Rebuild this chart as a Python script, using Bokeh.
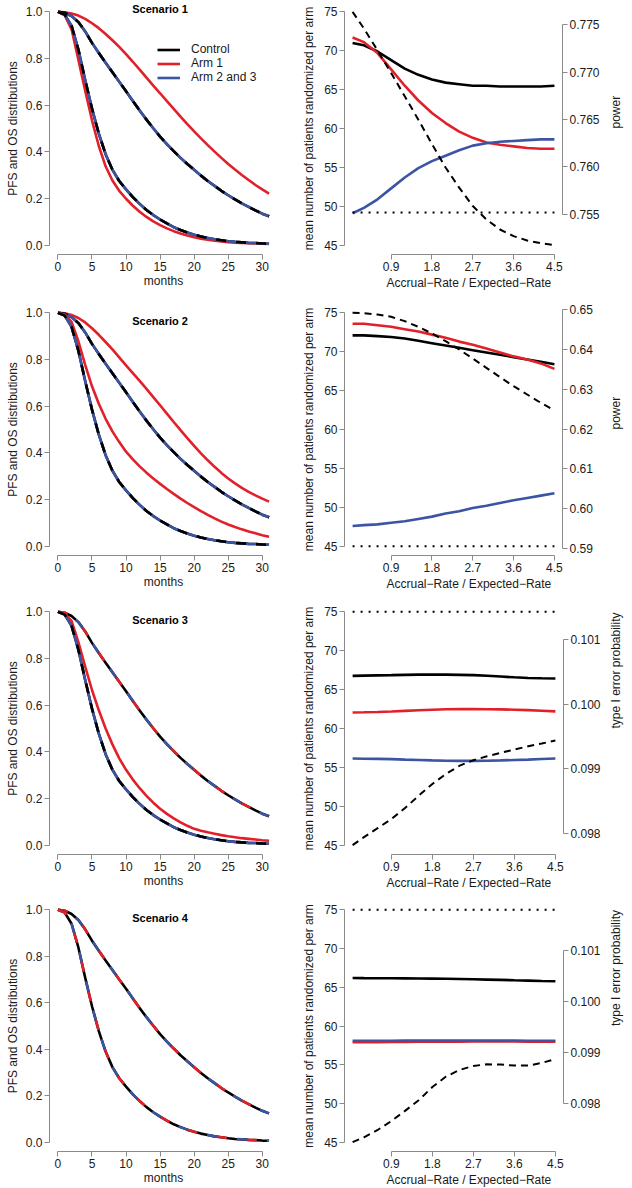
import math
from bokeh.plotting import figure
from bokeh.models import (Range1d, LinearAxis, FixedTicker, PrintfTickFormatter,
                          Legend, LegendItem, Label, Title)
from bokeh.layouts import column, row
from bokeh.embed import file_html
from bokeh.resources import INLINE

FONT = "Liberation Sans"
BLACK = "#000000"
RED = "#E2202A"
BLUE = "#3B54A3"
AXIS = "#8a8a8a"
TXT = "#1a1a1a"

# ---------------- survival curves (months 0..31) ----------------
months = list(range(32))
control_pfs = [1.000, 0.988, 0.940, 0.838, 0.708, 0.585, 0.478, 0.390, 0.323, 0.275, 0.239,
               0.206, 0.177, 0.151, 0.129, 0.110, 0.093, 0.077, 0.065, 0.054, 0.045,
               0.037, 0.031, 0.025, 0.021, 0.017, 0.014, 0.012, 0.010, 0.009, 0.007, 0.006]
control_os = [1.000, 0.996, 0.982, 0.956, 0.916, 0.867, 0.824, 0.782, 0.741, 0.700, 0.660,
              0.618, 0.577, 0.538, 0.501, 0.465, 0.433, 0.403, 0.374, 0.348, 0.323,
              0.298, 0.275, 0.254, 0.233, 0.214, 0.196, 0.179, 0.164, 0.149, 0.135, 0.124]
s1_arm1_pfs = [1.000, 0.985, 0.925, 0.795, 0.662, 0.535, 0.425, 0.338, 0.277, 0.233, 0.199,
               0.169, 0.143, 0.121, 0.102, 0.086, 0.072, 0.060, 0.050, 0.041, 0.034,
               0.028, 0.023, 0.019, 0.016, 0.013, 0.011, 0.009, 0.008, 0.007, 0.006, 0.005]
s1_arm1_os = [1.000, 0.998, 0.993, 0.984, 0.970, 0.951, 0.930, 0.905, 0.878, 0.850, 0.819,
              0.786, 0.752, 0.718, 0.684, 0.651, 0.617, 0.584, 0.551, 0.519, 0.488,
              0.458, 0.429, 0.401, 0.374, 0.348, 0.324, 0.301, 0.279, 0.258, 0.239, 0.221]
s2_arm1_pfs = [1.000, 0.993, 0.961, 0.878, 0.777, 0.685, 0.610, 0.546, 0.492, 0.446, 0.405,
               0.372, 0.342, 0.315, 0.290, 0.267, 0.245, 0.224, 0.204, 0.185, 0.167,
               0.150, 0.134, 0.119, 0.105, 0.093, 0.082, 0.072, 0.063, 0.055, 0.047, 0.040]
s2_arm1_os = [1.000, 0.998, 0.991, 0.978, 0.959, 0.934, 0.906, 0.875, 0.843, 0.809, 0.775,
              0.742, 0.708, 0.674, 0.639, 0.604, 0.568, 0.532, 0.497, 0.463, 0.430,
              0.398, 0.368, 0.340, 0.314, 0.290, 0.269, 0.250, 0.233, 0.218, 0.204, 0.191]
s3_arm1_pfs = [1.000, 0.992, 0.961, 0.870, 0.765, 0.665, 0.578, 0.500, 0.432, 0.372, 0.323,
               0.281, 0.244, 0.211, 0.182, 0.156, 0.134, 0.115, 0.098, 0.083, 0.070,
               0.062, 0.055, 0.049, 0.043, 0.038, 0.034, 0.030, 0.027, 0.024, 0.021, 0.019]

# ---------------- operating characteristics ----------------
ratio = [0.05, 0.3, 0.6, 0.9, 1.2, 1.5, 1.8, 2.1, 2.4, 2.7, 3.0, 3.3, 3.6, 3.9, 4.2, 4.5]

s1_control_n = [71.0, 70.7, 69.9, 68.8, 67.7, 66.9, 66.3, 65.9, 65.7, 65.5, 65.5, 65.4, 65.4, 65.4, 65.4, 65.5]
s1_arm1_n = [71.7, 71.1, 69.7, 67.6, 65.5, 63.6, 62.0, 60.7, 59.6, 58.8, 58.2, 57.9, 57.7, 57.5, 57.4, 57.4]
s1_arm23_n = [49.1, 49.8, 50.9, 52.3, 53.7, 54.9, 55.8, 56.5, 57.2, 57.8, 58.1, 58.3, 58.4, 58.5, 58.6, 58.6]
s1_power = [0.77634, 0.77458, 0.77228, 0.76989, 0.76745, 0.76498, 0.76241, 0.75994,
            0.75782, 0.75588, 0.75447, 0.75341, 0.75271, 0.75225, 0.75197, 0.75176]
s1_power_ref = 0.7552

s2_control_n = [72.1, 72.1, 72.0, 71.9, 71.7, 71.4, 71.1, 70.8, 70.5, 70.2, 69.9, 69.6, 69.3, 69.0, 68.7, 68.4]
s2_arm1_n = [73.6, 73.6, 73.4, 73.2, 72.9, 72.6, 72.2, 71.8, 71.3, 70.9, 70.4, 69.9, 69.4, 69.0, 68.5, 67.8]
s2_arm23_n = [47.6, 47.7, 47.8, 48.0, 48.2, 48.5, 48.8, 49.2, 49.5, 49.9, 50.2, 50.55, 50.9, 51.2, 51.5, 51.8]
s2_power = [0.64916, 0.64908, 0.64874, 0.64816, 0.64707, 0.64565, 0.64397, 0.64205,
            0.63996, 0.63770, 0.63536, 0.63301, 0.63075, 0.62866, 0.62657, 0.62464]
s2_power_ref = 0.59059

s3_control_n = [66.77, 66.80, 66.83, 66.86, 66.90, 66.93, 66.94, 66.93, 66.90, 66.86, 66.78, 66.68, 66.58, 66.50, 66.46, 66.43]
s3_arm1_n = [62.06, 62.08, 62.12, 62.18, 62.26, 62.34, 62.42, 62.47, 62.49, 62.49, 62.48, 62.46, 62.42, 62.36, 62.29, 62.20]
s3_arm23_n = [56.14, 56.12, 56.09, 56.06, 56.00, 55.95, 55.90, 55.86, 55.84, 55.84, 55.86, 55.90, 55.95, 56.00, 56.08, 56.14]
s3_t1e = [0.097813, 0.097938, 0.098078, 0.098218, 0.098389, 0.098581, 0.098763, 0.098919,
          0.099048, 0.099131, 0.099194, 0.099246, 0.099298, 0.099349, 0.099391, 0.099438]
s3_t1e_ref = 0.101436

s4_control_n = [66.19, 66.18, 66.17, 66.16, 66.15, 66.13, 66.12, 66.10, 66.07, 66.03, 65.99, 65.95, 65.90, 65.86, 65.81, 65.77]
s4_arm1_n = [57.90, 57.90, 57.92, 57.93, 57.95, 57.96, 57.97, 57.98, 57.98, 57.99, 57.99, 57.99, 57.99, 57.98, 57.98, 57.98]
s4_arm23_n = [58.10, 58.10, 58.10, 58.10, 58.11, 58.11, 58.12, 58.12, 58.12, 58.12, 58.12, 58.11, 58.11, 58.10, 58.10, 58.10]
s4_t1e = [0.097242, 0.097339, 0.097482, 0.097657, 0.097857, 0.098065, 0.098324, 0.098531,
          0.098661, 0.098739, 0.098771, 0.098765, 0.098745, 0.098745, 0.098797, 0.098875]
s4_t1e_ref = 0.101803

# ---------------- ticks / labels ----------------
month_ticks = [0, 5, 10, 15, 20, 25, 30]
surv_ticks = [0.0, 0.2, 0.4, 0.6, 0.8, 1.0]
ratio_ticks = [0.9, 1.8, 2.7, 3.6, 4.5]
patient_ticks = [45, 50, 55, 60, 65, 70, 75]
power_ticks_s1 = [0.755, 0.760, 0.765, 0.770, 0.775]
power_ticks_s2 = [0.59, 0.60, 0.61, 0.62, 0.63, 0.64, 0.65]
t1e_ticks = [0.098, 0.099, 0.100, 0.101]

scenario_titles = ["Scenario 1", "Scenario 2", "Scenario 3", "Scenario 4"]
legend_labels = ["Control", "Arm 1", "Arm 2 and 3"]
ratio_label = "Accrual\u2212Rate / Expected\u2212Rate"

left_data = [
    (control_pfs, control_os, s1_arm1_pfs, s1_arm1_os, control_pfs, control_os),
    (control_pfs, control_os, s2_arm1_pfs, s2_arm1_os, control_pfs, control_os),
    (control_pfs, control_os, s3_arm1_pfs, control_os, control_pfs, control_os),
    (control_pfs, control_os, control_pfs, control_os, control_pfs, control_os),
]
right_data = [
    (s1_control_n, s1_arm1_n, s1_arm23_n, s1_power, s1_power_ref, power_ticks_s1, "%.3f", "power", 13),
    (s2_control_n, s2_arm1_n, s2_arm23_n, s2_power, s2_power_ref, power_ticks_s2, "%.2f", "power", 20),
    (s3_control_n, s3_arm1_n, s3_arm23_n, s3_t1e, s3_t1e_ref, t1e_ticks, "%.3f", "type I error probability", 12),
    (s4_control_n, s4_arm1_n, s4_arm23_n, s4_t1e, s4_t1e_ref, t1e_ticks, "%.3f", "type I error probability", 12),
]

row_heights = [301, 299, 298, 289]
FRAME_H = 252
TOP = 2
LW = 2.6
LEFT_W, RIGHT_W = 296, 336


def padded(lo, hi, f=0.04):
    d = (hi - lo) * f
    return lo - d, hi + d


def style_axis(ax, label_standoff=2, axis_label_standoff=2):
    ax.axis_line_color = AXIS
    ax.axis_line_width = 1
    ax.major_tick_line_color = AXIS
    ax.major_tick_out = 5
    ax.major_tick_in = 0
    ax.minor_tick_line_color = None
    ax.major_label_text_font = FONT
    ax.major_label_text_font_size = "12px"
    ax.major_label_text_color = TXT
    ax.major_label_standoff = label_standoff
    ax.axis_label_text_font = FONT
    ax.axis_label_text_font_size = "12px"
    ax.axis_label_text_font_style = "normal"
    ax.axis_label_text_color = TXT
    ax.axis_label_standoff = axis_label_standoff


def draw_endpoint(p, ctrl, a1, a23):
    r_ctrl = p.line(months, ctrl, line_color=BLACK, line_width=LW)
    r_a1 = r_a23 = None
    if a1 is ctrl and a23 is ctrl:
        p.line(months, a1, line_color=RED, line_width=LW, line_dash="10 20", line_dash_offset=0)
        p.line(months, a23, line_color=BLUE, line_width=LW, line_dash="10 20", line_dash_offset=10)
    else:
        if a1 is not ctrl:
            r_a1 = p.line(months, a1, line_color=RED, line_width=LW)
        r_a23 = p.line(months, a23, line_color=BLUE, line_width=LW)
        if a23 is ctrl:
            p.line(months, ctrl, line_color=BLACK, line_width=LW, line_dash="10 10")
    return r_ctrl, r_a1, r_a23


def left_panel(i, h):
    c_pfs, c_os, a1_pfs, a1_os, a23_pfs, a23_os = left_data[i]
    xr = padded(min(months), max(months))
    yr = padded(surv_ticks[0], surv_ticks[-1])
    p = figure(width=LEFT_W, height=h, x_range=Range1d(*xr), y_range=Range1d(*yr),
               output_backend="svg", toolbar_location=None,
               min_border_left=49, min_border_right=LEFT_W - 49 - 228, min_border_top=TOP,
               min_border_bottom=h - TOP - FRAME_H)
    p.outline_line_color = None
    p.grid.visible = False
    style_axis(p.xaxis[0], 2, 0)
    style_axis(p.yaxis[0], 2, 3)
    p.xaxis.ticker = FixedTicker(ticks=month_ticks)
    p.xaxis.bounds = (month_ticks[0], month_ticks[-1])
    p.xaxis.axis_label = "months"
    p.yaxis.ticker = FixedTicker(ticks=surv_ticks)
    p.yaxis.bounds = (surv_ticks[0], surv_ticks[-1])
    p.yaxis.formatter = PrintfTickFormatter(format="%.1f")
    p.yaxis.axis_label = "PFS and OS distributions"

    rc, ra1, ra23 = draw_endpoint(p, c_os, a1_os, a23_os)
    draw_endpoint(p, c_pfs, a1_pfs, a23_pfs)

    ty = 1.014 if i == 0 else 0.965
    p.add_layout(Label(x=(month_ticks[0] + month_ticks[-1]) / 2, y=ty, text=scenario_titles[i],
                       text_align="center", text_baseline="middle", text_font=FONT,
                       text_font_size="11px", text_font_style="bold", text_color=BLACK))
    if i == 0:
        items = [LegendItem(label=lab, renderers=[r])
                 for lab, r in zip(legend_labels, [rc, ra1, ra23])]
        leg = Legend(items=items, location=(108, 170), orientation="vertical",
                     padding=0, margin=0, spacing=-1, glyph_width=23, glyph_height=11,
                     label_height=11, label_standoff=11, border_line_color=None,
                     background_fill_alpha=0, label_text_font=FONT,
                     label_text_font_size="12px", label_text_color=TXT)
        p.add_layout(leg, "center")
    return p


def right_panel(i, h):
    c_n, a1_n, a23_n, oc, oc_ref, rticks, fmt, rlabel, rstand = right_data[i]
    xr = padded(min(ratio), max(ratio))
    yr = padded(patient_ticks[0], patient_ticks[-1])
    lo = min(min(oc), oc_ref)
    hi = max(max(oc), oc_ref)
    rr = padded(lo, hi)
    p = figure(width=RIGHT_W, height=h, x_range=Range1d(*xr), y_range=Range1d(*yr),
               output_backend="svg", toolbar_location=None,
               min_border_left=48, min_border_right=RIGHT_W - 48 - 221, min_border_top=TOP,
               min_border_bottom=h - TOP - FRAME_H)
    p.outline_line_color = None
    p.grid.visible = False
    p.extra_y_ranges = {"oc": Range1d(*rr)}
    style_axis(p.xaxis[0], 2, 1)
    style_axis(p.yaxis[0], 2, 5)
    p.xaxis.ticker = FixedTicker(ticks=ratio_ticks)
    p.xaxis.bounds = (ratio_ticks[0], ratio_ticks[-1])
    p.xaxis.formatter = PrintfTickFormatter(format="%.1f")
    p.yaxis.ticker = FixedTicker(ticks=patient_ticks)
    p.yaxis.bounds = (patient_ticks[0], patient_ticks[-1])
    p.yaxis.axis_label = "mean number of patients randomized per arm"

    ax = LinearAxis(y_range_name="oc", ticker=FixedTicker(ticks=rticks),
                    formatter=PrintfTickFormatter(format=fmt),
                    bounds=(rticks[0], rticks[-1]), axis_label=rlabel,
                    axis_label_orientation=math.pi / 2)
    style_axis(ax, 2, rstand)
    p.add_layout(ax, "right")

    # x-axis title: a Title in the lower panel, starting 42 px right of the frame edge
    p.add_layout(Title(text=ratio_label, align="left", offset=42, standoff=0,
                       text_font=FONT, text_font_size="12px", text_font_style="normal",
                       text_color=TXT), "below")

    p.line(ratio, c_n, line_color=BLACK, line_width=LW)
    p.line(ratio, a1_n, line_color=RED, line_width=LW)
    p.line(ratio, a23_n, line_color=BLUE, line_width=LW)
    p.line(ratio, oc, y_range_name="oc", line_color=BLACK, line_width=2, line_dash="7 5")
    p.line([min(ratio), max(ratio)], [oc_ref, oc_ref], y_range_name="oc",
           line_color=BLACK, line_width=2, line_dash="2 6")
    return p


rows = []
for i, h in enumerate(row_heights):
    rows.append(row(left_panel(i, h), right_panel(i, h)))
layout = column(*rows)

open("out.html", "w").write(file_html(layout, INLINE))
